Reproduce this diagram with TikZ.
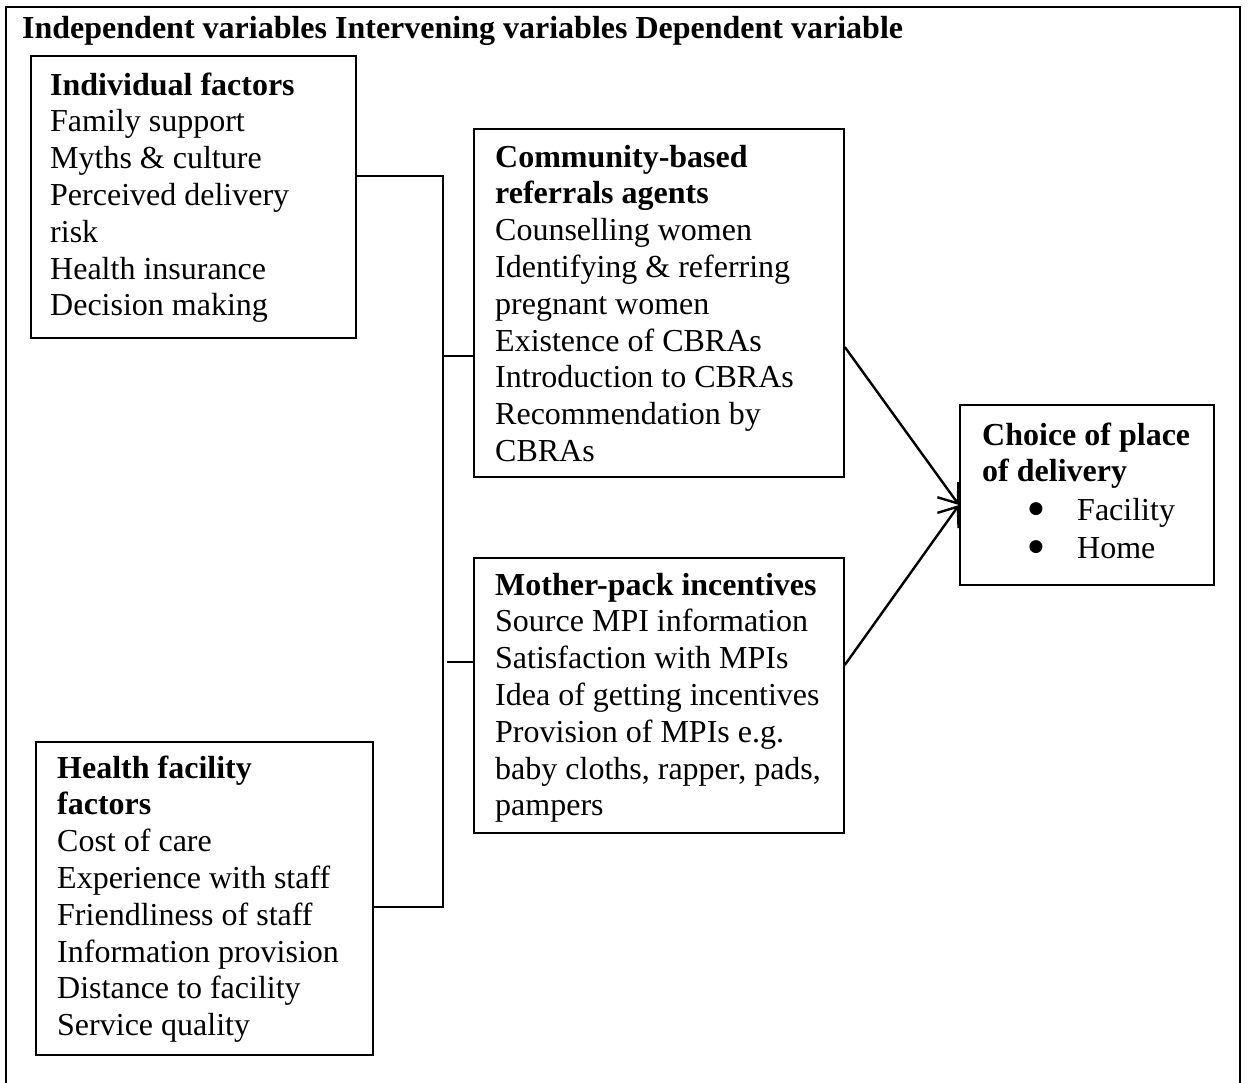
\documentclass[tikz,border=0pt]{standalone}
\usepackage{fontspec}
\setmainfont{Liberation Serif}
\newfontfamily\dejavusans{DejaVu Sans}
\usetikzlibrary{arrows.meta}
\tikzset{
  txt/.style={inner sep=0pt, anchor=base west, font=\fontsize{32}{36.8}\selectfont},
  bul/.style={inner sep=0pt, anchor=base, font=\dejavusans\fontsize{17}{17}\selectfont},
  boxframe/.style={draw, line width=1.8pt, inner sep=0pt, anchor=north west},
  conn/.style={line width=1.1pt},
  arr/.style={line width=2.4pt, -{Straight Barb[length=17pt,width=26pt,line width=2.4pt]}},
}
\newcommand{\linesat}[4]{%
  \foreach \t [count=\i] in {#4} {%
    \node[txt] (#1-\i) at (#2,{#3+36.8*(\i-1)}) {\t};
  }%
}
\begin{document}
\begin{tikzpicture}[x=1pt,y=-1pt]
\useasboundingbox (0,0) rectangle (1249,1082);
% outer frame (open at bottom)
\draw[line width=2.5pt] (6,1100) -- (6,7) -- (1240,7) -- (1240,1100);
% title
\node[txt] (title) at (22,38) {\textbf{Independent variables Intervening variables Dependent variable}};
% boxes
\node[boxframe, minimum width=325pt, minimum height=282pt] (ind) at (30,55) {};
\node[boxframe, minimum width=370pt, minimum height=348pt] (com) at (473,128) {};
\node[boxframe, minimum width=370pt, minimum height=275pt] (mom) at (473,557) {};
\node[boxframe, minimum width=337pt, minimum height=313pt] (hea) at (35,741) {};
\node[boxframe, minimum width=254pt, minimum height=180pt] (cho) at (959,404) {};
% texts
\linesat{indt}{50}{95}{\textbf{Individual factors},Family support,Myths \& culture,Perceived delivery,risk,Health insurance,Decision making}
\linesat{comt}{495}{167}{\textbf{Community-based},\textbf{referrals agents},Counselling women,Identifying \& referring,pregnant women,Existence of CBRAs,Introduction to CBRAs,Recommendation by,CBRAs}
\linesat{momt}{495}{595}{\textbf{Mother-pack incentives},Source MPI information,Satisfaction with MPIs,Idea of getting incentives,Provision of MPIs e.g.,{baby cloths, rapper, pads,},pampers}
\linesat{heat}{57}{778}{\textbf{Health facility},\textbf{factors},Cost of care,Experience with staff,Friendliness of staff,Information provision,Distance to facility,Service quality}
\linesat{chot}{982}{445}{\textbf{Choice of place},\textbf{of delivery}}
\node[bul] (b1) at (1036,513) {●};
\node[txt] (f1) at (1077,520) {Facility};
\node[bul] (b2) at (1036,551) {●};
\node[txt] (f2) at (1077,558) {Home};
% connectors
\coordinate (j1) at (443,176);
\coordinate (j2) at (443,356);
\coordinate (j3) at (447,662);
\coordinate (j4) at (443,907);
\draw[conn] (ind.east |- j1) -- (j1) -- (j4) -- (hea.east |- j4);
\draw[conn] (j2) -- (com.west |- j2);
\draw[conn] (j3) -- (mom.west |- j3);
% arrows
\coordinate (tip) at (959,505);
\coordinate (a1) at (843,347);
\coordinate (a2) at (843,665);
\draw[arr] (com.east |- a1) -- (tip);
\draw[arr] (mom.east |- a2) -- (tip);
\end{tikzpicture}
\end{document}
